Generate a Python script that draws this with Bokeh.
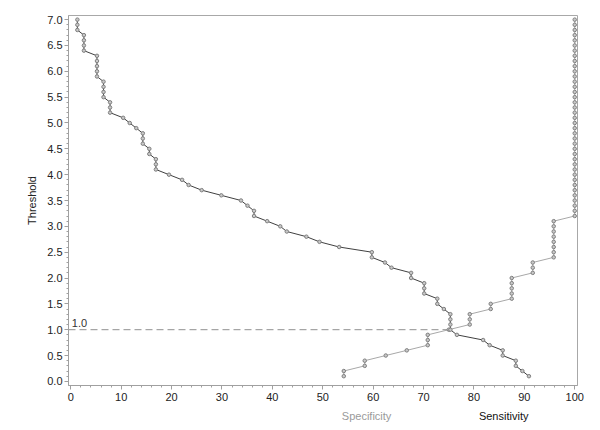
from bokeh.plotting import figure
from bokeh.layouts import column
from bokeh.models import FixedTicker, Label, Range1d, PrintfTickFormatter
from bokeh.core.properties import value
from bokeh.embed import file_html
from bokeh.resources import INLINE

# Threshold values (y axis), ascending
threshold = [0.1, 0.2, 0.3, 0.4, 0.5, 0.6, 0.7, 0.8, 0.9, 1.0,
             1.1, 1.2, 1.3, 1.4, 1.5, 1.6, 1.7, 1.8, 1.9, 2.0,
             2.1, 2.2, 2.3, 2.4, 2.5, 2.6, 2.7, 2.8, 2.9, 3.0,
             3.1, 3.2, 3.3, 3.4, 3.5, 3.6, 3.7, 3.8, 3.9, 4.0,
             4.1, 4.2, 4.3, 4.4, 4.5, 4.6, 4.7, 4.8, 4.9, 5.0,
             5.1, 5.2, 5.3, 5.4, 5.5, 5.6, 5.7, 5.8, 5.9, 6.0,
             6.1, 6.2, 6.3, 6.4, 6.5, 6.6, 6.7, 6.8, 6.9, 7.0]

# Sensitivity (%) at each threshold
sensitivity = [90.91, 89.61, 88.31, 88.31, 85.71, 85.71, 83.12, 81.82, 76.62, 75.32,
               75.32, 75.32, 75.32, 74.03, 72.73, 72.73, 70.13, 70.13, 70.13, 67.53,
               67.53, 63.64, 62.34, 59.74, 59.74, 53.25, 49.35, 46.75, 42.86, 41.56,
               38.96, 36.36, 36.36, 35.06, 33.77, 29.87, 25.97, 23.38, 22.08, 19.48,
               16.88, 16.88, 16.88, 15.58, 15.58, 14.29, 14.29, 14.29, 12.99, 11.69,
               10.39, 7.79, 7.79, 7.79, 6.49, 6.49, 6.49, 6.49, 5.19, 5.19,
               5.19, 5.19, 5.19, 2.60, 2.60, 2.60, 2.60, 1.30, 1.30, 1.30]

# Specificity (%) at each threshold
specificity = [54.17, 54.17, 58.33, 58.33, 62.50, 66.67, 70.83, 70.83, 70.83, 75.00,
               79.17, 79.17, 79.17, 83.33, 83.33, 87.50, 87.50, 87.50, 87.50, 87.50,
               91.67, 91.67, 91.67, 95.83, 95.83, 95.83, 95.83, 95.83, 95.83, 95.83,
               95.83, 100, 100, 100, 100, 100, 100, 100, 100, 100,
               100, 100, 100, 100, 100, 100, 100, 100, 100, 100,
               100, 100, 100, 100, 100, 100, 100, 100, 100, 100,
               100, 100, 100, 100, 100, 100, 100, 100, 100, 100]

ref_threshold = 1.0
x_ticks = [0, 10, 20, 30, 40, 50, 60, 70, 80, 90, 100]
y_ticks = [0.0, 0.5, 1.0, 1.5, 2.0, 2.5, 3.0, 3.5, 4.0, 4.5, 5.0, 5.5, 6.0, 6.5, 7.0]
series_names = ["Specificity", "Sensitivity"]
series_label_colors = ["#9a9a9a", "#111111"]

FONT = "Liberation Sans"
W = 600
BL, BR = 68, 23

x0, x1 = -0.46, 100.55
p = figure(width=W, height=405, output_backend="svg", toolbar_location=None,
           x_range=Range1d(x0, x1), y_range=Range1d(-0.08, 7.08),
           min_border_left=BL, min_border_right=BR, min_border_top=15, min_border_bottom=20)
p.background_fill_color = "white"
p.border_fill_color = "white"
p.grid.visible = False
p.outline_line_color = "#a8a8a8"

# reference line at threshold 1.0, up to the crossing point
ref_idx = threshold.index(ref_threshold)
p.line(x=[x0, sensitivity[ref_idx]], y=[ref_threshold, ref_threshold],
       line_color="#909090", line_dash="7 4", line_width=1)
p.add_layout(Label(x=0.2, y=ref_threshold, text=f"{ref_threshold:.1f}", y_offset=3,
                   text_baseline="bottom", text_align="left",
                   text_font=FONT, text_font_size="11px", text_color="#333333"))

# Specificity (light)
p.line(specificity, threshold, line_color="#a8a8a8", line_width=1)
p.scatter(specificity, threshold, marker="circle", size=3.5,
          line_color="#808080", fill_color="#c8c8c8", line_width=1)

# Sensitivity (dark)
p.line(sensitivity, threshold, line_color="#404040", line_width=1)
p.scatter(sensitivity, threshold, marker="circle", size=3.5,
          line_color="#808080", fill_color="#c8c8c8", line_width=1)

# axes
p.xaxis.ticker = FixedTicker(ticks=x_ticks, minor_ticks=list(range(0, 101, 2)))
p.yaxis.ticker = FixedTicker(ticks=y_ticks, minor_ticks=[i / 10 for i in range(0, 71)])
p.yaxis.formatter = PrintfTickFormatter(format="%.1f")
for ax in (p.xaxis[0], p.yaxis[0]):
    ax.axis_line_color = "#a0a0a0"
    ax.major_tick_line_color = "#a0a0a0"
    ax.minor_tick_line_color = "#a0a0a0"
    ax.major_tick_out = 4
    ax.major_tick_in = 0
    ax.minor_tick_out = 2
    ax.minor_tick_in = 0
    ax.major_label_text_font = FONT
    ax.major_label_text_font_size = "11px"
    ax.major_label_text_color = "#222222"
    ax.axis_label_text_font = FONT
    ax.axis_label_text_font_size = "11px"
    ax.axis_label_text_font_style = "normal"
    ax.axis_label_text_color = "#222222"
p.xaxis.major_label_standoff = 3
p.yaxis.major_label_standoff = 2
p.yaxis.axis_label = "Threshold"
p.yaxis.axis_label_standoff = 6

# strip below the axis holding the series names
q = figure(width=W, height=20, output_backend="svg", toolbar_location=None,
           x_range=p.x_range, y_range=Range1d(0, 1),
           min_border_left=BL, min_border_right=BR, min_border_top=0, min_border_bottom=0)
q.axis.visible = False
q.grid.visible = False
q.outline_line_color = None
q.background_fill_color = "white"
q.border_fill_color = "white"
q.text(x=[58.7, 85.9], y=[0.5, 0.5], text=series_names, text_color=series_label_colors,
       text_align="center", text_baseline="middle",
       text_font=value(FONT), text_font_size="11px")

layout = column(p, q, spacing=0)
open("out.html", "w").write(file_html(layout, INLINE))
